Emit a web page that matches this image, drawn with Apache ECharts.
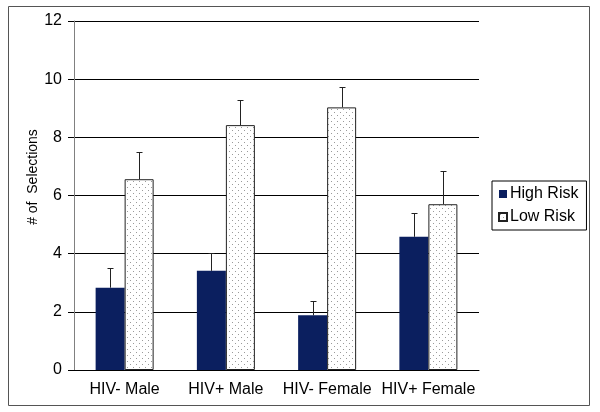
<!DOCTYPE html>
<html><head><meta charset="utf-8">
<script src="https://cdn.jsdelivr.net/npm/echarts@6/dist/echarts.min.js"></script>
<style>html,body{margin:0;padding:0;background:#fff}#c{width:600px;height:412px}</style>
</head><body><div id="c"></div>
<script>
const categories = ['HIV- Male', 'HIV+ Male', 'HIV- Female', 'HIV+ Female'];
const highRisk = [2.83, 3.41, 1.88, 4.58];
const highRiskErr = [3.50, 4.01, 2.36, 5.39];
const lowRisk = [6.56, 8.42, 9.03, 5.70];
const lowRiskErr = [7.49, 9.28, 9.72, 6.85];
const yTicks = [0, 2, 4, 6, 8, 10, 12];

const FONT = '"Liberation Sans", Arial, sans-serif';
const pc = document.createElement('canvas');
pc.width = 6; pc.height = 6;
const ctx = pc.getContext('2d');
ctx.fillStyle = '#ffffff'; ctx.fillRect(0, 0, 6, 6);
ctx.fillStyle = '#9a9a9a';
ctx.fillRect(1, 1, 1, 1); ctx.fillRect(4, 4, 1, 1);
const dotPattern = { image: pc, repeat: 'repeat' };

const BW = 29;
function errSeries(name, vals, errs, side) {
  return {
    type: 'custom', name: name + ' err', z: 5, silent: true,
    data: vals.map((v, i) => [i, v, errs[i]]),
    renderItem: function (params, api) {
      const p0 = api.coord([api.value(0), api.value(1)]);
      const p1 = api.coord([api.value(0), api.value(2)]);
      const x = Math.round(p0[0] + side * BW / 2) + 0.5;
      const y1 = Math.round(p1[1]) + 0.5;
      const st = { stroke: '#222', lineWidth: 1 };
      return { type: 'group', children: [
        { type: 'line', shape: { x1: x, y1: p0[1], x2: x, y2: y1 }, style: st },
        { type: 'line', shape: { x1: x - 3, y1: y1, x2: x + 3, y2: y1 }, style: st }
      ]};
    }
  };
}

const chart = echarts.init(document.getElementById('c'), null, { renderer: 'canvas' });
chart.setOption({
  animation: false,
  textStyle: { fontFamily: FONT },
  grid: { left: 74, right: 121, top: 21, bottom: 42 },
  graphic: [
    { type: 'rect', shape: { x: 8.5, y: 6.5, width: 581, height: 399 }, style: { fill: 'none', stroke: '#555', lineWidth: 1 }, z: 0 },
    { type: 'text', x: 33, y: 177, rotation: Math.PI / 2, style: { text: '# of  Selections', fontSize: 14, fontFamily: FONT, fill: '#000', align: 'center', verticalAlign: 'middle' } }
  ],
  legend: {
    data: ['High Risk', 'Low Risk'], orient: 'vertical', left: 492, top: 181,
    width: 93, padding: [5, 8, 5, 6], itemGap: 7,
    borderColor: '#000', borderWidth: 1, itemWidth: 8, itemHeight: 8,
    icon: 'rect',
    textStyle: { fontSize: 16, fontFamily: FONT, color: '#000', padding: [0, 0, 0, -2] }
  },
  xAxis: {
    type: 'category', data: categories,
    axisLine: { lineStyle: { color: '#000' } },
    axisTick: { show: false },
    axisLabel: { interval: 0, fontSize: 16, fontFamily: FONT, color: '#000', margin: 12 }
  },
  yAxis: {
    type: 'value', min: 0, max: 12, interval: 2,
    axisLine: { show: true, lineStyle: { color: '#808080' } },
    axisTick: { show: true, length: 6, lineStyle: { color: '#000' } },
    axisLabel: { fontSize: 16, fontFamily: FONT, color: '#000', margin: 12, formatter: v => yTicks.includes(v) ? String(v) : '' },
    splitLine: { lineStyle: { color: '#000', width: 1 } }
  },
  series: [
    { name: 'High Risk', type: 'bar', data: highRisk, barWidth: BW, barGap: '0%',
      itemStyle: { color: '#0b1f5f', borderColor: '#0b1f5f', borderWidth: 0 } },
    { name: 'Low Risk', type: 'bar', data: lowRisk, barWidth: BW, barGap: '0%',
      itemStyle: { color: dotPattern, borderColor: '#222', borderWidth: 1 } },
    errSeries('High Risk', highRisk, highRiskErr, -1),
    errSeries('Low Risk', lowRisk, lowRiskErr, 1)
  ]
});
</script></body></html>
